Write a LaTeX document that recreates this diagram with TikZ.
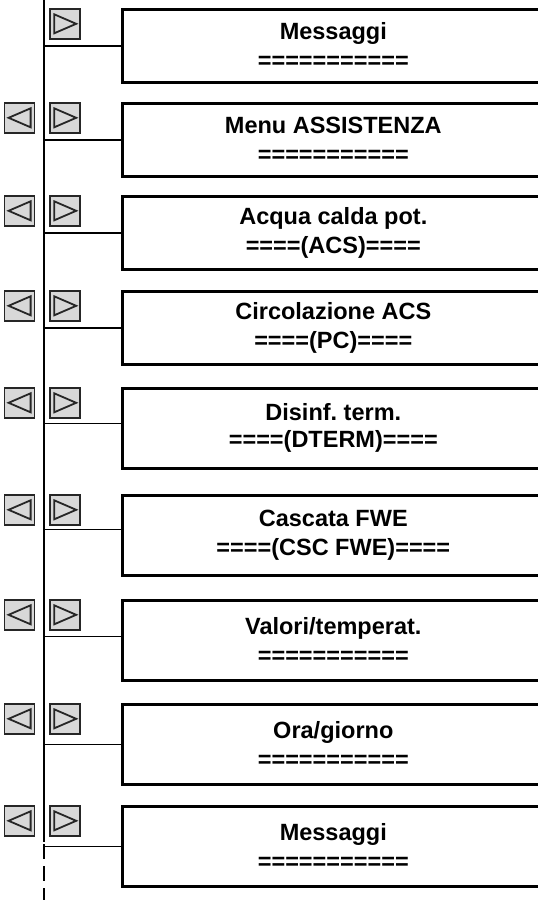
\documentclass[tikz,border=0pt]{standalone}
\usepackage{fontspec}
\setmainfont{Liberation Sans}
\usetikzlibrary{positioning}
\definecolor{btngray}{RGB}{216,216,216}
\frenchspacing

\begin{document}
\begin{tikzpicture}[x=1pt, y=-1pt,
    menu/.style={draw, line width=2.6pt, minimum width=422pt,
                 minimum height=73pt, anchor=north west, inner sep=0pt,
                 align=center, font=\fontsize{23.5}{29}\selectfont\bfseries},
    tall/.style={minimum height=80pt},
    tight/.style={font=\fontsize{23.5}{27}\selectfont\bfseries},
    btn/.style={draw=black!85, line width=1.6pt, fill=btngray,
                minimum size=30pt, inner sep=0pt},
    nextbtn/.style={btn, path picture={
        \draw[line width=1.8pt]
          ([shift={(4pt,-5.5pt)}]path picture bounding box.north west)
          -- ([shift={(4pt,5.5pt)}]path picture bounding box.south west)
          -- ([xshift=-4pt]path picture bounding box.east) -- cycle;}},
    prevbtn/.style={btn, path picture={
        \draw[line width=1.8pt]
          ([shift={(-4pt,-5.5pt)}]path picture bounding box.north east)
          -- ([shift={(-4pt,5.5pt)}]path picture bounding box.south east)
          -- ([xshift=4pt]path picture bounding box.west) -- cycle;}},
    trunkline/.style={line width=2pt},
    link/.style={line width=1.4pt}]
    \clip (0,0) rectangle (538,900);

    % menu boxes
    \node[menu] (m1) at (121,8) {Messaggi\\===========};
    \node[menu] (m2) at (121,102) {Menu ASSISTENZA\\===========};
    \node[menu] (m3) at (121,195) {Acqua calda pot.\\====(ACS)====};
    \node[menu] (m4) at (121,290) {Circolazione ACS\\====(PC)====};
    \node[menu, tall, tight] (m5) at (121,387) {Disinf. term.\\====(DTERM)====};
    \node[menu, tall] (m6) at (121,494) {Cascata FWE\\====(CSC FWE)====};
    \node[menu, tall] (m7) at (121,599) {Valori/temperat.\\===========};
    \node[menu, tall] (m8) at (121,703) {Ora/giorno\\===========};
    \node[menu, tall] (m9) at (121,805) {Messaggi\\===========};

    % buttons
    \node[nextbtn, left=40pt of m1.north west, anchor=north east] (n1) {};
    \node[nextbtn, left=40pt of m2.north west, anchor=north east] (n2) {};
    \node[nextbtn, left=40pt of m3.north west, anchor=north east] (n3) {};
    \node[nextbtn, left=40pt of m4.north west, anchor=north east] (n4) {};
    \node[nextbtn, left=40pt of m5.north west, anchor=north east] (n5) {};
    \node[nextbtn, left=40pt of m6.north west, anchor=north east] (n6) {};
    \node[nextbtn, left=40pt of m7.north west, anchor=north east] (n7) {};
    \node[nextbtn, left=40pt of m8.north west, anchor=north east] (n8) {};
    \node[nextbtn, left=40pt of m9.north west, anchor=north east] (n9) {};
    \node[prevbtn, left=14pt of n2] (p2) {};
    \node[prevbtn, left=14pt of n3] (p3) {};
    \node[prevbtn, left=14pt of n4] (p4) {};
    \node[prevbtn, left=14pt of n5] (p5) {};
    \node[prevbtn, left=14pt of n6] (p6) {};
    \node[prevbtn, left=14pt of n7] (p7) {};
    \node[prevbtn, left=14pt of n8] (p8) {};
    \node[prevbtn, left=14pt of n9] (p9) {};

    % trunk
    \coordinate (top) at (44,0);
    \coordinate (split) at (44,842);
    \coordinate (bottom) at (44,900);
    \draw[trunkline] (top) -- (split);
    \draw[trunkline, dash pattern=on 15pt off 7pt] ([yshift=-2pt]split) -- (bottom);
    \draw[link] (m1.west -| top) -- (m1.west);
    \draw[link] (m2.west -| top) -- (m2.west);
    \draw[link] (m3.west -| top) -- (m3.west);
    \draw[link] (m4.west -| top) -- (m4.west);
    \draw[link] ([yshift=5pt]m5.west -| top) -- ([yshift=5pt]m5.west);
    \draw[link] ([yshift=6pt]m6.west -| top) -- ([yshift=6pt]m6.west);
    \draw[link] ([yshift=4pt]m7.west -| top) -- ([yshift=4pt]m7.west);
    \draw[link] (m8.west -| top) -- (m8.west);
    \draw[link] (m9.west -| top) -- (m9.west);
\end{tikzpicture}
\end{document}
